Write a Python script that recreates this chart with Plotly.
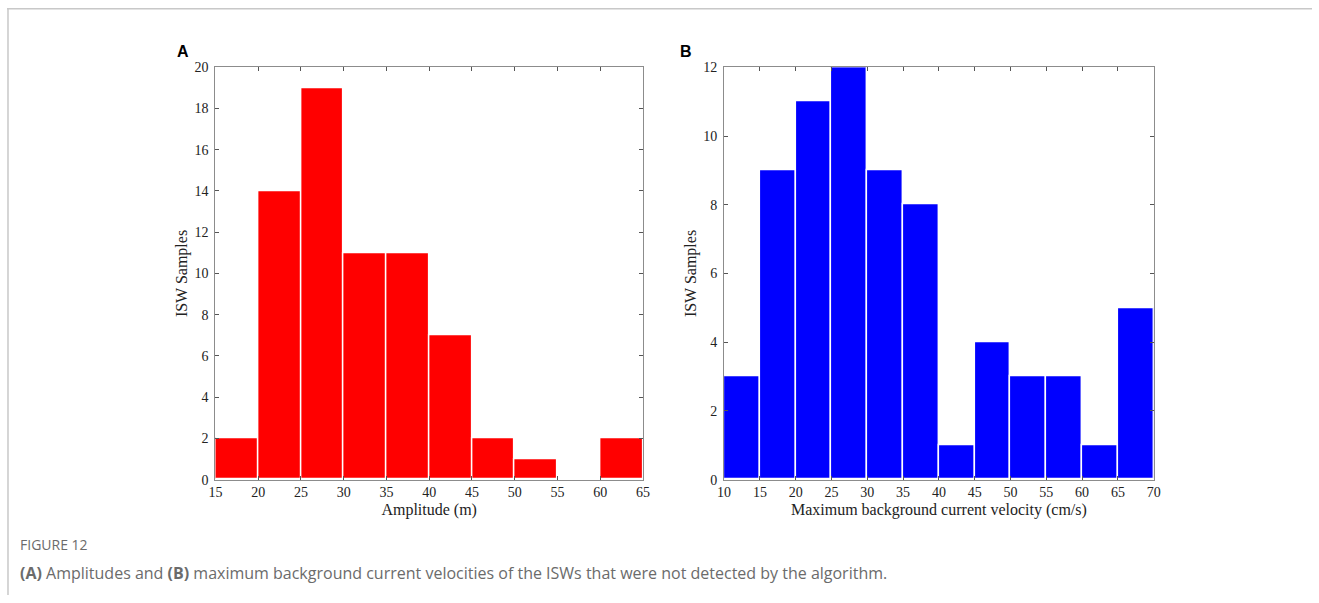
import plotly.graph_objects as go

# Data
amp_edges = [15, 20, 25, 30, 35, 40, 45, 50, 55, 60, 65]
amp_counts = [2, 14, 19, 11, 11, 7, 2, 1, 0, 2]
vel_edges = [10, 15, 20, 25, 30, 35, 40, 45, 50, 55, 60, 65, 70]
vel_counts = [3, 9, 11, 12, 9, 8, 1, 4, 3, 3, 1, 5]

W, H = 1319, 603
# the page keeps an 8px body margin and is photographed slightly scaled;
# map target screen pixels to figure paper coordinates
OFF = 8
SX, SY = (W + 2 * OFF) / W, (H + 2 * OFF) / H

def px(x):
    return (x * SX - OFF) / W

def py(y):
    return 1 - (y * SY - OFF) / H

def centers(edges):
    return [(a + b) / 2 for a, b in zip(edges[:-1], edges[1:])]

def widths(edges):
    return [b - a for a, b in zip(edges[:-1], edges[1:])]

fig = go.Figure()
fig.add_trace(go.Bar(x=centers(amp_edges), y=amp_counts, width=widths(amp_edges),
                     marker=dict(color="#ff0000", line=dict(color="white", width=1.5)),
                     xaxis="x", yaxis="y", showlegend=False, hoverinfo="x+y"))
fig.add_trace(go.Bar(x=centers(vel_edges), y=vel_counts, width=widths(vel_edges),
                     marker=dict(color="#0000ff", line=dict(color="white", width=1.5)),
                     xaxis="x2", yaxis="y2", showlegend=False, hoverinfo="x+y"))

tickfont = dict(family="Liberation Serif, Times New Roman, serif", size=14, color="#222")
titlefont = dict(family="Liberation Serif, Times New Roman, serif", size=16, color="#222")

common = dict(showline=True, linecolor="#8c8c8c", linewidth=1, mirror="ticks",
              ticks="inside", ticklen=4, tickcolor="#555", showgrid=False, zeroline=False,
              tickfont=tickfont)

fig.update_layout(
    width=W, height=H,
    margin=dict(l=0, r=0, t=0, b=0),
    paper_bgcolor="white", plot_bgcolor="white",
    bargap=0,
    xaxis=dict(domain=[px(216), px(643)], range=[15, 65], dtick=5, tick0=15, anchor="y",
               title=dict(text="Amplitude (m)", font=titlefont, standoff=4), **common),
    yaxis=dict(domain=[py(480), py(68)], range=[0, 20], dtick=2, anchor="x", ticklabelstandoff=3,
               title=dict(text="ISW Samples", font=titlefont, standoff=2), **common),
    xaxis2=dict(domain=[px(724), px(1153)], range=[10, 70], dtick=5, tick0=10, anchor="y2",
                title=dict(text="Maximum background current velocity (cm/s)", font=titlefont, standoff=4), **common),
    yaxis2=dict(domain=[py(480), py(68)], range=[0, 12], dtick=2, anchor="x2", ticklabelstandoff=3,
                title=dict(text="ISW Samples", font=titlefont, standoff=2), **common),
)

# page frame lines
fig.add_shape(type="line", xref="paper", yref="paper", x0=0, x1=1, y0=py(9.5), y1=py(9.5),
              line=dict(color="#c8c8c8", width=1.5))
fig.add_shape(type="line", xref="paper", yref="paper", x0=1 / W, x1=1 / W, y0=0, y1=py(9.5),
              line=dict(color="#c8c8c8", width=1.5))

# panel letters
fig.add_annotation(text="<b>A</b>", xref="paper", yref="paper", x=px(176), y=py(52),
                   xanchor="left", yanchor="middle", showarrow=False,
                   font=dict(family="Liberation Sans, Arial, sans-serif", size=16, color="black"))
fig.add_annotation(text="<b>B</b>", xref="paper", yref="paper", x=px(678), y=py(52),
                   xanchor="left", yanchor="middle", showarrow=False,
                   font=dict(family="Liberation Sans, Arial, sans-serif", size=16, color="black"))

# caption
fig.add_annotation(text="FIGURE 12", xref="paper", yref="paper", x=px(19), y=py(545),
                   xanchor="left", yanchor="middle", showarrow=False,
                   font=dict(family="Open Sans, sans-serif", size=14, color="#6b6b6b"))
fig.add_annotation(text="<b>(A)</b> Amplitudes and <b>(B)</b> maximum background current velocities of the ISWs that were not detected by the algorithm.",
                   xref="paper", yref="paper", x=px(19), y=py(573),
                   xanchor="left", yanchor="middle", showarrow=False,
                   font=dict(family="Open Sans, sans-serif", size=16, color="#6b6b6b"))

fig.write_html("out.html")
